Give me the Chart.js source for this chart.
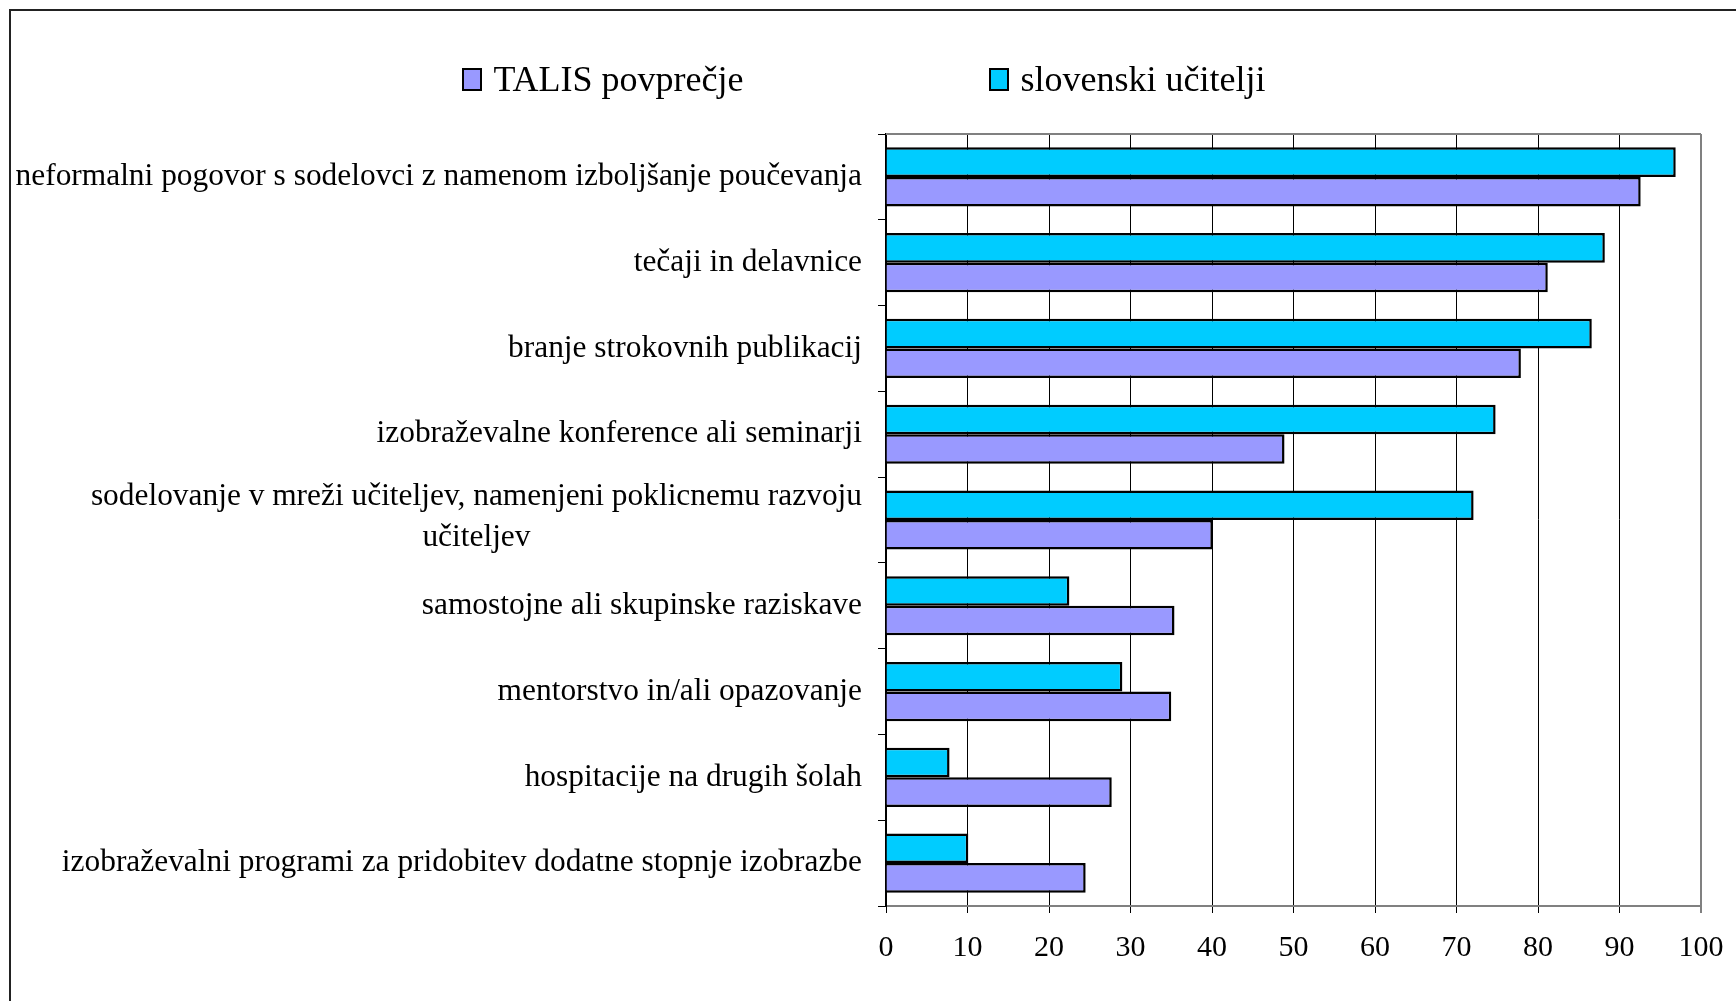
<!DOCTYPE html>
<html>
<head>
<meta charset="utf-8">
<script src="https://cdn.jsdelivr.net/npm/chart.js@4.4.0/dist/chart.umd.min.js"></script>
<style>
  html, body { margin: 0; padding: 0; background: #fff; }
  body { width: 1736px; height: 1001px; overflow: hidden; position: relative; font-family: "Liberation Serif", "Times New Roman", serif; }
  #chart { position: absolute; left: 0; top: 0; }
  #legend { position: absolute; left: 0; right: 9px; top: 59px; display: flex; justify-content: center; gap: 245px; }
  .item { display: flex; align-items: center; font-size: 36px; line-height: 41px; color: #000; }
  .box { width: 16px; height: 19px; border: 2px solid #000; margin-right: 12px; }
</style>
</head>
<body>
<canvas id="chart" width="1736" height="1001"></canvas>
<div id="legend"></div>
<script>
const categories = [
  'neformalni pogovor s sodelovci z namenom izboljšanje poučevanja',
  'tečaji in delavnice',
  'branje strokovnih publikacij',
  'izobraževalne konference ali seminarji',
  ['sodelovanje v mreži učiteljev, namenjeni poklicnemu razvoju', 'učiteljev'],
  'samostojne ali skupinske raziskave',
  'mentorstvo in/ali opazovanje',
  'hospitacije na drugih šolah',
  'izobraževalni programi za pridobitev dodatne stopnje izobrazbe'
];
const slovenski = [96.9, 88.2, 86.6, 74.8, 72.1, 22.5, 29.0, 7.8, 10.1];
const talis = [92.6, 81.2, 77.9, 48.9, 40.1, 35.4, 35.0, 27.7, 24.5];
const xTicks = [0, 10, 20, 30, 40, 50, 60, 70, 80, 90, 100];

const FONT = '"Liberation Serif", "Times New Roman", serif';

const datasets = [
  { label: 'slovenski učitelji', data: slovenski, backgroundColor: '#00CCFF', borderColor: '#000', borderWidth: 2.5 },
  { label: 'TALIS povprečje', data: talis, backgroundColor: '#9999FF', borderColor: '#000', borderWidth: 2.5 }
];

// oznake kategorij + okvir
const labelPlugin = {
  id: 'labelsAndFrame',
  afterDraw(chart) {
    const c = chart.ctx;
    const ys = chart.scales.y;
    const a = chart.chartArea;
    c.save();
    c.font = '31.4px ' + FONT;
    c.fillStyle = '#000';
    c.textBaseline = 'middle';
    const xr = ys.right - 6 - 18;
    categories.forEach((lab, i) => {
      const y = ys.getPixelForTick(i);
      if (Array.isArray(lab)) {
        const w = Math.max(...lab.map(t => c.measureText(t).width));
        c.textAlign = 'center';
        lab.forEach((t, k) => c.fillText(t, xr - w / 2, y + (k - (lab.length - 1) / 2) * 41 - 3));
      } else {
        c.textAlign = 'right';
        c.fillText(lab, xr, y);
      }
    });
    // zgornji rob grafa
    c.strokeStyle = '#808080';
    c.lineWidth = 2;
    c.beginPath();
    c.moveTo(a.left, a.top);
    c.lineTo(a.right, a.top);
    c.stroke();
    // zunanji okvir
    c.strokeStyle = '#222';
    c.beginPath();
    c.moveTo(10, chart.height);
    c.lineTo(10, 10);
    c.lineTo(chart.width, 10);
    c.stroke();
    c.restore();
  }
};

const chart = new Chart(document.getElementById('chart'), {
  type: 'bar',
  data: { labels: categories, datasets: datasets },
  options: {
    indexAxis: 'y',
    responsive: false,
    animation: false,
    categoryPercentage: 0.69,
    barPercentage: 1.0,
    layout: { padding: { top: 134, right: 35, bottom: 18, left: 0 } },
    plugins: { legend: { display: false }, tooltip: { enabled: false } },
    scales: {
      x: {
        min: 0,
        max: 100,
        afterBuildTicks: s => { s.ticks = xTicks.map(v => ({ value: v })); },
        afterFit: s => { s.paddingLeft = 0; s.paddingRight = 0; },
        ticks: { color: '#000', font: { family: FONT, size: 30 }, padding: 17, maxRotation: 0 },
        grid: {
          color: c => (c.tick && c.tick.value === 100 ? '#808080' : '#000'),
          lineWidth: c => (c.tick && c.tick.value === 100 ? 2 : 1),
          tickLength: 7
        },
        border: { color: '#808080', width: 2 }
      },
      y: {
        afterFit: s => { s.width = 886; },
        ticks: { color: 'transparent', font: { family: FONT, size: 30 }, padding: 18 },
        grid: { drawOnChartArea: false, color: '#000', tickLength: 8, offset: true },
        border: { color: '#000', width: 2 }
      }
    }
  },
  plugins: [labelPlugin]
});

// legenda (TALIS najprej)
const legend = document.getElementById('legend');
datasets.slice().reverse().forEach(ds => {
  const item = document.createElement('div');
  item.className = 'item';
  item.innerHTML = `<span class="box" style="background:${ds.backgroundColor}"></span><span>${ds.label}</span>`;
  legend.appendChild(item);
});
</script>
</body>
</html>
